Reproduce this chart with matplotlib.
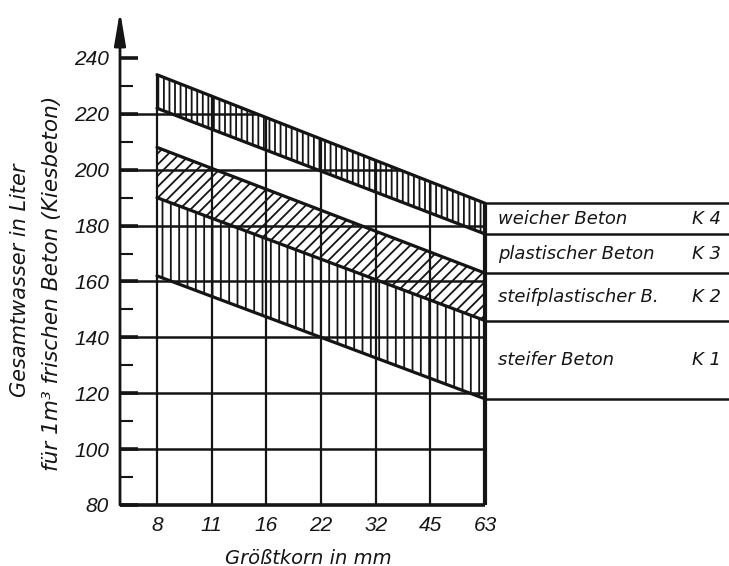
import numpy as np
import matplotlib
matplotlib.use('Agg')
import matplotlib.pyplot as plt
from matplotlib.patches import Polygon

# Groesstkorn categories (equally spaced on the chart)
grain = ['8', '11', '16', '22', '32', '45', '63']
ends = ['8', '63']

# band edges, water content in l/m3 at 8 mm and at 63 mm
k4_top = [234, 188]
k4_bot = [222, 177]
k2_top = [208, 163]
k2_bot = [190, 146]
k1_bot = [162, 118]

y_major = [80, 100, 120, 140, 160, 180, 200, 220, 240]
y_minor = [90, 110, 130, 150, 170, 190, 210, 230]
grid_y = [100, 120, 140, 160, 180, 200, 220]

rows = ['weicher Beton', 'plastischer Beton', 'steifplastischer B.', 'steifer Beton']
classes = ['K 4', 'K 3', 'K 2', 'K 1']

ink = '#151515'
plt.rcParams['hatch.linewidth'] = 1.3
plt.rcParams['font.family'] = ['DejaVu Sans']

x_end = [grain.index(g) for g in ends]

fig = plt.figure(figsize=(7.29, 5.66), dpi=100)
ax = fig.add_axes([120/729, 61/566, 609/729, 494/566])
x0 = -(157 - 120) / 54.67
x1 = 6 + (729 - 485) / 54.67
ytop = 80 + 494 / 2.794
ax.set_xlim(x0, x1)
ax.set_ylim(80, ytop)
for s in ax.spines.values():
    s.set_visible(False)

# grid only below the top band
clip = Polygon([(x0, 80), (x0, k4_top[0]), (x_end[0], k4_top[0]),
                (x_end[1], k4_top[1]), (x_end[1], 80)],
               closed=True, transform=ax.transData, fill=False, lw=0)
ax.add_patch(clip)
vl = ax.vlines(range(len(grain) - 1), 80, 260, colors=ink, lw=1.6)
vl.set_clip_path(clip)
hl = ax.hlines(grid_y, x0, x_end[1], colors=ink, lw=1.8)
hl.set_clip_path(clip)
ax.vlines(x_end[1], 80, k4_top[1], colors=ink, lw=3)

# hatched bands
ax.fill_between(x_end, k4_bot, k4_top, facecolor='none', edgecolor=ink, hatch='|||', lw=0)
ax.fill_between(x_end, k2_bot, k2_top, facecolor='none', edgecolor=ink, hatch='///', lw=0)
ax.fill_between(x_end, k1_bot, k2_bot, facecolor='none', edgecolor=ink, hatch='||', lw=0)
for line in [k4_top, k4_bot, k2_top, k2_bot, k1_bot]:
    ax.plot(x_end, line, color=ink, lw=2.3, solid_capstyle='round')

# table on the right
bounds = [k4_top[1], k4_bot[1], k2_top[1], k2_bot[1], k1_bot[1]]
ax.hlines(bounds, x_end[1], x1, colors=ink, lw=1.8, clip_on=False)
for i in range(len(rows)):
    ym = (bounds[i] + bounds[i + 1]) / 2
    ax.text(6.24, ym, rows[i], style='italic', va='center', fontsize=13, color=ink)
    ax.text(9.78, ym, classes[i], style='italic', va='center', fontsize=13, color=ink)

# axes lines
ax.hlines(80, x0, x_end[1], colors=ink, lw=2.6, clip_on=False)
ax.annotate('', xy=(x0, ytop), xytext=(x0, 80),
            arrowprops=dict(arrowstyle='-|>,head_length=1.0,head_width=0.17', color=ink,
                            lw=2, shrinkA=0, shrinkB=0, mutation_scale=20),
            annotation_clip=False)

ax.set_yticks(y_major)
ax.set_yticklabels([str(v) for v in y_major])
ax.set_yticks(y_minor, minor=True)
ax.tick_params(axis='y', which='major', direction='in', length=13, width=2.6, pad=8,
               labelsize=15, colors=ink)
ax.tick_params(axis='y', which='minor', direction='in', length=9, width=1.5, colors=ink)
ax.set_xticks(range(len(grain)))
ax.set_xticklabels(grain)
ax.tick_params(axis='x', length=0, pad=8, labelsize=15, colors=ink)
for lbl in ax.get_xticklabels() + ax.get_yticklabels():
    lbl.set_style('italic')
    lbl.set_family(['Liberation Sans', 'DejaVu Sans'])

fig.text(20/729, 1 - 280/566, 'Gesamtwasser in Liter', rotation=90,
         ha='center', va='center', style='italic', fontsize=15, color=ink)
fig.text(52/729, 1 - 283/566, 'für 1m³ frischen Beton (Kiesbeton)', rotation=90,
         ha='center', va='center', style='italic', fontsize=15.6, color=ink)
fig.text(308/729, 1 - 558/566, 'Größtkorn in mm', ha='center', va='center',
         style='italic', fontsize=14, color=ink)

fig.savefig('out.png', dpi=100)
